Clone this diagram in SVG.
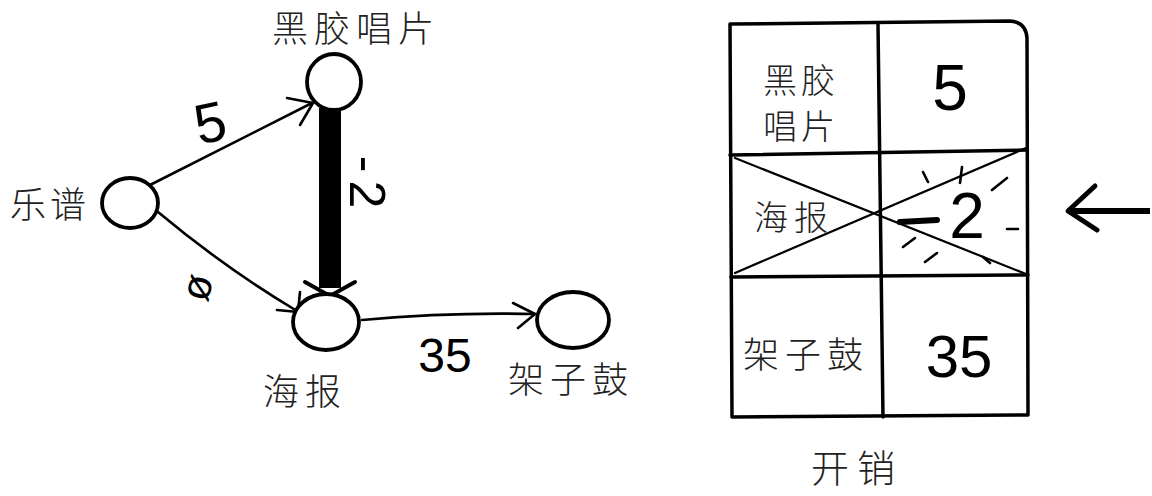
<svg xmlns="http://www.w3.org/2000/svg" width="1152" height="496" viewBox="0 0 1152 496">
<style>
.node{fill:#fff;stroke:#000;stroke-width:3.8}
.edge{fill:none;stroke:#000;stroke-width:2.6;stroke-linecap:round;stroke-linejoin:round}
.cn{font-family:"Noto Sans CJK SC","Noto Sans",sans-serif;fill:#222;font-weight:300}
.num{font-family:"Liberation Sans","DejaVu Sans",sans-serif;fill:#000}
.tbl{fill:none;stroke:#000;stroke-width:3.5;stroke-linecap:round;stroke-linejoin:round}
.thin{fill:none;stroke:#000;stroke-width:2.2;stroke-linecap:round}
.dash{fill:none;stroke:#000;stroke-width:2.6;stroke-linecap:round}
</style>
<rect width="1152" height="496" fill="#fff"/>
<g id="connectors">
  <path class="edge" d="M150,185 L312,103"/>
  <polyline class="edge" points="287,98 313,103 300,125"/>
  <path class="edge" d="M158,212 Q225,268 297,311"/>
  <polyline class="edge" points="277,310 298,312 300,292"/>
  <path class="edge" d="M362,320 Q450,312 535,314"/>
  <polyline class="edge" points="513,303 535,314 518,328"/>
  <path d="M330,108 L330,288" stroke="#000" stroke-width="22" fill="none"/>
  <polyline points="305,282 330,296 355,282" fill="none" stroke="#000" stroke-width="4" stroke-linecap="round"/>
  <text class="num" x="210" y="142" font-size="56" text-anchor="middle" transform="rotate(-12 210 122)">5</text>
  <text class="num" x="196" y="302" font-size="42" text-anchor="middle" transform="rotate(-75 196 287)">ø</text>
  <text class="num" x="445" y="372" font-size="48" text-anchor="middle">35</text>
  <text class="num" x="368" y="204" font-size="50" text-anchor="middle" letter-spacing="8" transform="rotate(90 368 186)">-2</text>
</g>
<g id="node-yuepu">
  <ellipse class="node" cx="130" cy="203" rx="28" ry="25"/>
  <text class="cn" x="50" y="218" font-size="36" text-anchor="middle" letter-spacing="4">乐谱</text>
</g>
<g id="node-heijiao">
  <ellipse class="node" cx="334" cy="82" rx="27" ry="28"/>
  <text class="cn" x="356" y="42" font-size="36" text-anchor="middle" letter-spacing="6">黑胶唱片</text>
</g>
<g id="node-haibao">
  <ellipse class="node" cx="326" cy="322" rx="33" ry="28"/>
  <text class="cn" x="305" y="405" font-size="36" text-anchor="middle" letter-spacing="6">海报</text>
</g>
<g id="node-jiazigu">
  <ellipse class="node" cx="573" cy="320" rx="36" ry="28"/>
  <text class="cn" x="571" y="393" font-size="36" text-anchor="middle" letter-spacing="6">架子鼓</text>
</g>
<g id="table">
  <path class="tbl" d="M730,24 L1010,21 Q1026,22 1027,38 L1028,415 L732,417 Z"/>
  <path class="tbl" d="M878,24 L883,417"/>
  <path class="tbl" d="M730,155 L1027,150"/>
  <path class="tbl" d="M731,277 L1028,275"/>
  <path class="thin" d="M735,158 L1026,274"/>
  <path class="thin" d="M735,273 L1026,148"/>
  <text class="cn" x="801" y="93" font-size="34" text-anchor="middle" letter-spacing="4">黑胶</text>
  <text class="cn" x="801" y="139" font-size="34" text-anchor="middle" letter-spacing="4">唱片</text>
  <text class="num" x="950" y="110" font-size="64" text-anchor="middle">5</text>
  <text class="cn" x="794" y="230" font-size="34" text-anchor="middle" letter-spacing="6">海报</text>
  <path d="M900,222 L937,220" stroke="#000" stroke-width="6" stroke-linecap="round"/>
  <text class="num" x="967" y="238" font-size="64" text-anchor="middle">2</text>
  <path class="dash" d="M923,172 L928,182 M962,167 L960,183 M992,190 L1007,178 M1007,229 L1018,229 M903,247 L915,238 M925,262 L937,253 M983,257 L990,263"/>
  <text class="cn" x="806" y="368" font-size="36" text-anchor="middle" letter-spacing="6">架子鼓</text>
  <text class="num" x="959" y="377" font-size="60" text-anchor="middle">35</text>
  <text class="cn" x="857" y="482" font-size="38" text-anchor="middle" letter-spacing="8">开销</text>
</g>
<g id="pointer">
  <path d="M1150,211 L1070,211" stroke="#000" stroke-width="6" fill="none"/>
  <polyline points="1095,186 1068,211 1097,230" fill="none" stroke="#000" stroke-width="5" stroke-linecap="round" stroke-linejoin="round"/>
</g>
</svg>
